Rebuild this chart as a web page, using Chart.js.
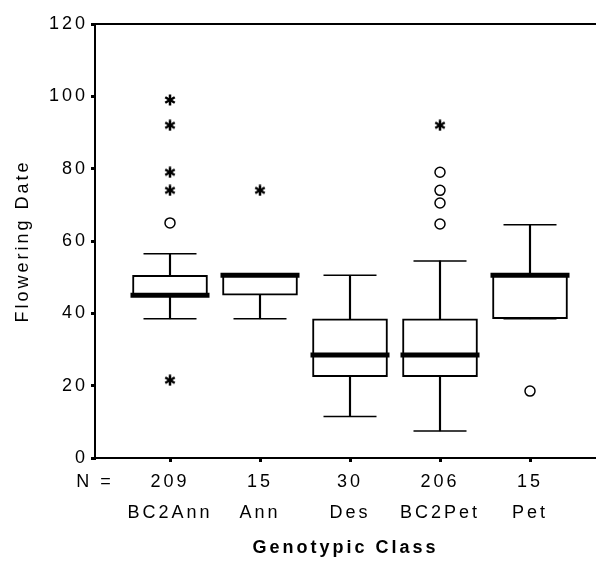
<!DOCTYPE html>
<html>
<head>
<meta charset="utf-8">
<script src="https://cdn.jsdelivr.net/npm/chart.js@4/dist/chart.umd.min.js"></script>
<style>
  html, body { margin: 0; padding: 0; background: #fff; }
  #wrap { width: 596px; height: 563px; }
</style>
</head>
<body>
<div id="wrap"><canvas id="boxChart"></canvas></div>
<script>
// Genotypic classes and counts
const classes = ['BC2Ann', 'Ann', 'Des', 'BC2Pet', 'Pet'];
const counts = ['209', '15', '30', '206', '15'];
const positions = [1, 2, 3, 4, 5];

// Box statistics (flowering date)
const lowWhisker = [38.5, 38.5, 11.5, 7.5, 38.5];
const q1 = [45, 45, 22.5, 22.5, 38.5];
const medians = [45, 50.5, 28.5, 28.5, 50.5];
const q3 = [50.5, 50.5, 38.5, 38.5, 50.5];
const highWhisker = [56.5, 50.5, 50.5, 54.5, 64.5];

// Outliers (circles) and extremes (stars), per class
const outliers = [[65], [], [], [79, 74, 70.5, 64.7], [18.5]];
const extremes = [[99, 92, 79, 74, 21.5], [74], [], [92], []];

const yTicks = [0, 20, 40, 60, 80, 100, 120];

Chart.defaults.font.family = "'Liberation Sans', Arial, sans-serif";
Chart.defaults.color = '#000';

// six-armed asterisk used for extreme values
function makeStar() {
    const c = document.createElement('canvas');
    c.width = 12;
    c.height = 12;
    const g = c.getContext('2d');
    g.strokeStyle = '#000';
    g.lineWidth = 2.5;
    g.lineCap = 'butt';
    [90, 30, 150].forEach(function (deg) {
        const r = deg * Math.PI / 180;
        const dx = Math.cos(r) * 5.5, dy = Math.sin(r) * 5.5;
        g.beginPath();
        g.moveTo(6 - dx, 6 - dy);
        g.lineTo(6 + dx, 6 + dy);
        g.stroke();
    });
    return c;
}

function pairs(a, b) {
    return positions.map((x, i) => ({ x: x, y: [a[i], b[i]] }));
}
function points(vals) {
    return positions.map((x, i) => ({ x: x, y: vals[i] }));
}
function scatterFrom(lists) {
    const out = [];
    lists.forEach((list, i) => list.forEach(v => out.push({ x: positions[i], y: v })));
    return out;
}

// letter spacing to match the wide type in the original
const spacing = {
    id: 'spacing',
    beforeLayout(chart) { chart.ctx.letterSpacing = '3px'; },
    beforeDraw(chart) { chart.ctx.letterSpacing = '3px'; }
};

const ctx = document.getElementById('boxChart').getContext('2d');
const xMin = 1 - 75 / 90;
const xMax = 5 + 66 / 90;

new Chart(ctx, {
    type: 'bar',
    data: {
        datasets: [
            {
                type: 'scatter',
                data: points(medians),
                pointStyle: 'line',
                pointRadius: 39.5,
                borderColor: '#000',
                borderWidth: 5,
                order: 0
            },
            {
                type: 'scatter',
                data: scatterFrom(extremes),
                pointStyle: makeStar(),
                order: 0
            },
            {
                type: 'scatter',
                data: scatterFrom(outliers),
                pointStyle: 'circle',
                pointRadius: 5,
                backgroundColor: '#fff',
                borderColor: '#000',
                borderWidth: 1.5,
                order: 0
            },
            {
                data: pairs(q1, q3),
                backgroundColor: '#fff',
                borderColor: '#000',
                borderWidth: 2,
                borderSkipped: false,
                barThickness: 75,
                grouped: false,
                order: 1
            },
            {
                type: 'scatter',
                data: points(highWhisker).concat(points(lowWhisker)),
                pointStyle: 'line',
                pointRadius: 26.5,
                borderColor: '#000',
                borderWidth: 1.5,
                order: 2
            },
            {
                data: pairs(q3, highWhisker),
                backgroundColor: '#000',
                borderWidth: 0,
                barThickness: 1.5,
                grouped: false,
                order: 3
            },
            {
                data: pairs(lowWhisker, q1),
                backgroundColor: '#000',
                borderWidth: 0,
                barThickness: 1.5,
                grouped: false,
                order: 3
            }
        ]
    },
    options: {
        responsive: true,
        maintainAspectRatio: false,
        animation: false,
        layout: { padding: 0, autoPadding: false },
        plugins: {
            legend: { display: false },
            tooltip: { enabled: false }
        },
        scales: {
            x: {
                type: 'linear',
                position: 'bottom',
                min: xMin,
                max: xMax,
                offset: false,
                afterBuildTicks(axis) {
                    axis.ticks = [{ value: xMin }].concat(positions.map(v => ({ value: v })));
                },
                afterFit(axis) {
                    axis.height = 105;
                    axis.paddingLeft = 0;
                    axis.paddingRight = 0;
                },
                ticks: {
                    autoSkip: false,
                    maxRotation: 0,
                    padding: 4,
                    font: { size: 18, lineHeight: 1.75 },
                    callback(value) {
                        const i = positions.indexOf(value);
                        if (i < 0) return ['N =', ''];
                        return [counts[i], classes[i]];
                    }
                },
                grid: {
                    offset: false,
                    drawOnChartArea: false,
                    tickLength: 4,
                    lineWidth: 3,
                    tickColor: c => (c.index === 0 ? 'rgba(0,0,0,0)' : '#000')
                },
                border: { display: true, color: '#000', width: 2 },
                title: {
                    display: true,
                    text: 'Genotypic Class',
                    font: { size: 18, weight: 'bold', lineHeight: 1.2 },
                    padding: { top: 0, bottom: 4 }
                }
            },
            x2: {
                type: 'linear',
                position: 'top',
                min: xMin,
                max: xMax,
                afterFit(axis) {
                    axis.height = 24;
                    axis.paddingLeft = 0;
                    axis.paddingRight = 0;
                },
                ticks: { display: false },
                grid: { display: false },
                border: { display: true, color: '#000', width: 2 }
            },
            y: {
                min: 0,
                max: 120,
                afterBuildTicks(axis) {
                    axis.ticks = yTicks.map(v => ({ value: v }));
                },
                afterFit(axis) { axis.width = 95; },
                ticks: {
                    padding: 3,
                    font: { size: 18 }
                },
                grid: {
                    drawOnChartArea: false,
                    tickLength: 4,
                    lineWidth: 3,
                    tickColor: '#000'
                },
                border: { display: true, color: '#000', width: 2 },
                title: {
                    display: true,
                    text: 'Flowering Date',
                    font: { size: 18, lineHeight: 1.2 },
                    padding: { top: 12, bottom: 0 }
                }
            }
        }
    },
    plugins: [spacing]
});
</script>
</body>
</html>
